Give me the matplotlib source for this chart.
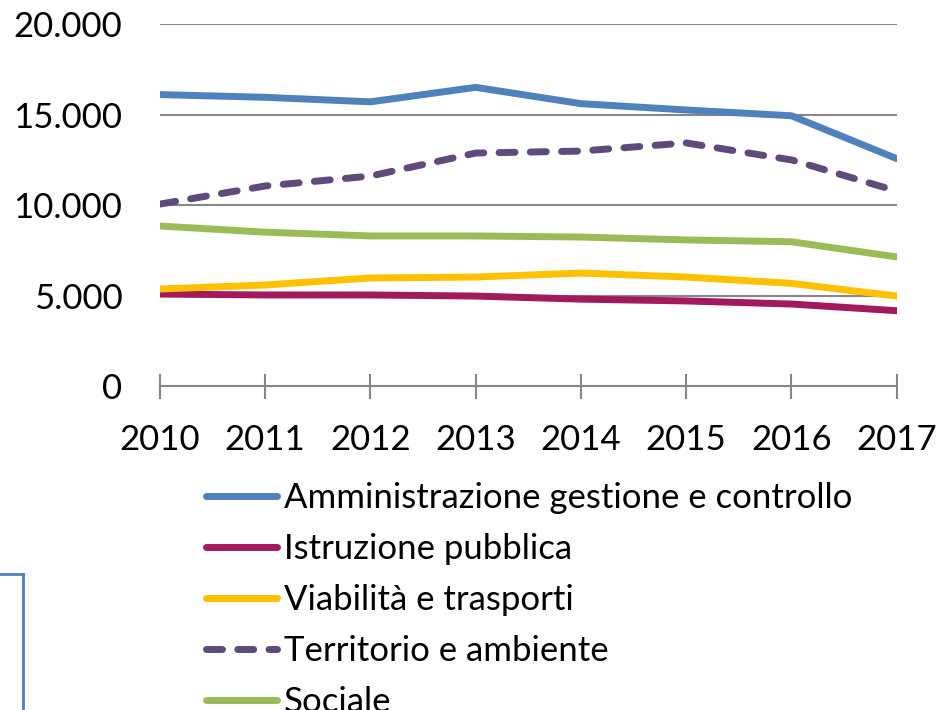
import matplotlib
matplotlib.use("Agg")
import matplotlib.pyplot as plt
from matplotlib.lines import Line2D
from matplotlib.ticker import FuncFormatter

plt.rcParams['font.family'] = ['Lato', 'DejaVu Sans']

anni = [2010, 2011, 2012, 2013, 2014, 2015, 2016, 2017]

amministrazione = [16100, 15950, 15700, 16500, 15600, 15250, 14930, 12560]
istruzione = [5080, 5030, 5030, 4970, 4800, 4700, 4530, 4160]
viabilita = [5360, 5580, 5970, 6020, 6240, 6020, 5670, 4970]
territorio = [10050, 11050, 11600, 12870, 12980, 13430, 12490, 10770]
sociale = [8840, 8500, 8290, 8290, 8230, 8070, 7970, 7130]

etichette = ["Amministrazione gestione e controllo", "Istruzione pubblica",
             "Viabilità e trasporti", "Territorio e ambiente", "Sociale"]
colori = ["#4F81BD", "#A3195B", "#FFC000", "#604A7B", "#9BBB59"]

fig = plt.figure(figsize=(9.4, 7.1), dpi=100)
ax = fig.add_axes([0.170, 0.4563, 0.784, 0.5099])

serie = [amministrazione, istruzione, viabilita, territorio, sociale]
for vals, lab, col in zip(serie, etichette, colori):
    ln, = ax.plot(anni, vals, color=col, lw=5, label=lab,
                  solid_capstyle='round', dash_capstyle='round', zorder=3)
    if lab == "Territorio e ambiente":
        ln.set_dashes([2.3, 2.2])

ax.set_xlim(2010, 2017)
ax.set_ylim(0, 20000)
ax.set_yticks([0, 5000, 10000, 15000, 20000])
ax.yaxis.set_major_formatter(FuncFormatter(lambda v, p: f"{int(v):,}".replace(",", ".")))
ax.set_xticks(anni)

for y in [5000, 10000, 15000, 20000]:
    ax.axhline(y, color="#868686", lw=1.5, zorder=1)

for s in ["top", "right", "left"]:
    ax.spines[s].set_visible(False)
ax.spines["bottom"].set_color("#868686")
ax.spines["bottom"].set_linewidth(1.5)
ax.spines["bottom"].set_zorder(1)

ax.tick_params(axis="y", length=0, labelsize=25, pad=27)
ax.tick_params(axis="x", direction="inout", length=18, width=1.5, color="#868686",
               labelsize=25, pad=18)

leg = fig.legend(loc="upper left", bbox_to_anchor=(0.219, 0.321), frameon=False,
                 fontsize=25, handlelength=2.05, handletextpad=0.2, labelspacing=0.55,
                 borderaxespad=0, borderpad=0)

# frammento di riquadro in basso a sinistra
fig.add_artist(Line2D([0, 0.0245], [0.191, 0.191], color="#4F81BD", lw=2,
                      transform=fig.transFigure))
fig.add_artist(Line2D([0.0245, 0.0245], [0.191, 0], color="#4F81BD", lw=2,
                      transform=fig.transFigure))

fig.savefig("out.png", dpi=100)
